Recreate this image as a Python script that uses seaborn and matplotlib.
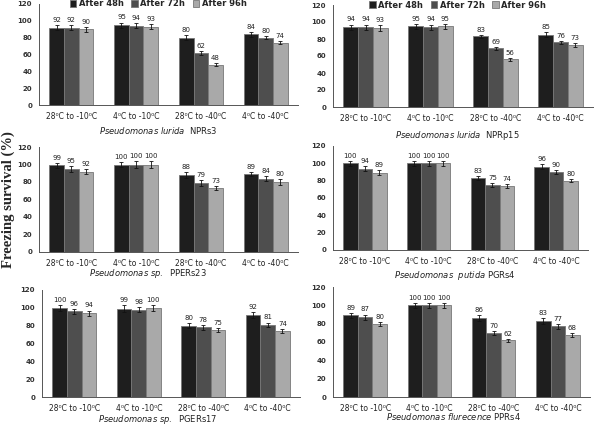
import numpy as np
import pandas as pd
import matplotlib.pyplot as plt
import seaborn as sns

# categories / series
groups = ["28⁰C to -10⁰C", "4⁰C to -10⁰C", "28⁰C to -40⁰C", "4⁰C to -40⁰C"]
times = ["After 48h", "After 72h", "After 96h"]
colors = ["#1e1e1e", "#4e4e4e", "#a9a9a9"]

# Pseudomonas lurida NPRs3
nprs3_48 = [92, 95, 80, 84]
nprs3_72 = [92, 94, 62, 80]
nprs3_96 = [90, 93, 48, 74]
nprs3_err = [[3, 3, 3, 3], [3, 3, 2, 2], [3, 3, 1.5, 2]]

# Pseudomonas lurida NPRp15
nprp15_48 = [94, 95, 83, 85]
nprp15_72 = [94, 94, 69, 76]
nprp15_96 = [93, 95, 56, 73]
nprp15_err = [[3, 3, 2, 3], [3, 3, 2, 2], [3, 3, 1.5, 2]]

# Pseudomonas sp. PPERs23
pper23_48 = [99, 100, 88, 89]
pper23_72 = [95, 100, 79, 84]
pper23_96 = [92, 100, 73, 80]
pper23_err = [[3, 3, 3, 2], [3, 4, 3, 3], [3, 4, 2.5, 3]]

# Pseudomonas putida PGRs4
pgrs4_48 = [100, 100, 83, 96]
pgrs4_72 = [94, 100, 75, 90]
pgrs4_96 = [89, 100, 74, 80]
pgrs4_err = [[3, 3, 2, 3], [3, 3, 2, 2], [3, 3, 2, 2]]

# Pseudomonas sp. PGERs17
pgers17_48 = [100, 99, 80, 92]
pgers17_72 = [96, 98, 78, 81]
pgers17_96 = [94, 100, 75, 74]
pgers17_err = [[3, 4, 3, 3], [3, 3, 2.5, 2.5], [3, 3, 2, 2]]

# Pseudomonas flurecence PPRs4
pprs4_48 = [89, 100, 86, 83]
pprs4_72 = [87, 100, 70, 77]
pprs4_96 = [80, 100, 62, 68]
pprs4_err = [[3, 3, 3, 3], [3, 3, 2, 3], [2, 3, 1.5, 2]]

# (species, strain, values, errors, axes box in px: left, top, right, bottom, title pos px, legend)
panels = [
    ("Pseudomonas\\ lurida", "  NPRs3", [nprs3_48, nprs3_72, nprs3_96], nprs3_err,
     (39, 4, 298, 105), (158, 131), (0.46, 1.0)),
    ("Pseudomonas\\ lurida", "  NPRp15", [nprp15_48, nprp15_72, nprp15_96], nprp15_err,
     (333, 5, 593, 107), (457, 136), (0.48, 1.0)),
    ("Pseudomonas\\ sp.", "  PPERs23", [pper23_48, pper23_72, pper23_96], pper23_err,
     (39, 147, 298, 252), (148, 273), None),
    ("Pseudomonas\\ \\ putida", " PGRs4", [pgrs4_48, pgrs4_72, pgrs4_96], pgrs4_err,
     (333, 146, 588, 250), (455, 276), None),
    ("Pseudomonas\\ sp.", "  PGERs17", [pgers17_48, pgers17_72, pgers17_96], pgers17_err,
     (42, 290, 300, 397), (158, 420), None),
    ("Pseudomonas\\ flurecence", " PPRs4", [pprs4_48, pprs4_72, pprs4_96], pprs4_err,
     (333, 287, 590, 397), (453, 417), None),
]

sns.set_style("white")
plt.rcParams['font.family'] = ['DejaVu Sans']

W, H = 600, 425
fig = plt.figure(figsize=(6, 4.25), dpi=100)

for species, strain, vals, errs, box, tpos, leg in panels:
    l, t, r, b = box
    ax = fig.add_axes([l / W, 1 - b / H, (r - l) / W, (b - t) / H])
    df = pd.DataFrame({
        "group": groups * 3,
        "time": np.repeat(times, 4),
        "value": vals[0] + vals[1] + vals[2],
    })
    sns.barplot(data=df, x="group", y="value", hue="time", order=groups, hue_order=times,
                palette=colors, errorbar=None, width=0.68, edgecolor="#777777",
                linewidth=0.6, saturation=1, legend=leg is not None, ax=ax)
    conts = list(ax.containers)[:3]
    for cont, v, e in zip(conts, vals, errs):
        xs = [p.get_x() + p.get_width() / 2 for p in cont]
        ax.errorbar(xs, v, yerr=e, fmt="none", ecolor="#111111", elinewidth=0.6,
                    capsize=1.5, capthick=0.6)
        for x, y, ee in zip(xs, v, e):
            ax.annotate(str(y), (x, y + ee), xytext=(0, 1.5), textcoords="offset points",
                        ha="center", va="bottom", fontsize=5, color="#222222")
    ax.set_ylim(0, 120)
    ax.set_yticks(range(0, 121, 20))
    ax.set_xlim(-0.5, 3.5)
    ax.set_xlabel("")
    ax.set_ylabel("")
    ax.set_xticks([-0.5, 0.5, 1.5, 2.5, 3.5], minor=True)
    ax.tick_params(axis="x", which="major", length=0, labelsize=5.5, pad=5)
    ax.tick_params(axis="x", which="minor", length=2, width=0.6, direction="out", color="#444444")
    ax.tick_params(axis="y", length=2, width=0.6, direction="out", labelsize=5, pad=3, color="#444444")
    for lab in ax.get_yticklabels():
        lab.set_fontweight("bold")
        lab.set_color("#333333")
    for lab in ax.get_xticklabels():
        lab.set_color("#222222")
    sns.despine(ax=ax)
    for s in ["left", "bottom"]:
        ax.spines[s].set_color("#555555")
        ax.spines[s].set_linewidth(0.7)
    if leg is not None:
        ax.legend(ncol=3, loc="center", bbox_to_anchor=leg, frameon=False,
                  handlelength=0.8, handleheight=0.8, columnspacing=0.9, handletextpad=0.3,
                  prop={"weight": "bold", "size": 6})
    fig.text(tpos[0] / W, 1 - tpos[1] / H, r"$\it{" + species + "}$" + strain,
             ha="center", va="center", fontsize=6, color="#222222")

fig.text(8 / W, 1 - 200 / H, "Freezing survival (%)", rotation=90, ha="center", va="center",
         family="Liberation Serif", fontweight="bold", fontsize=10.5)

fig.savefig("out.png", dpi=100)
